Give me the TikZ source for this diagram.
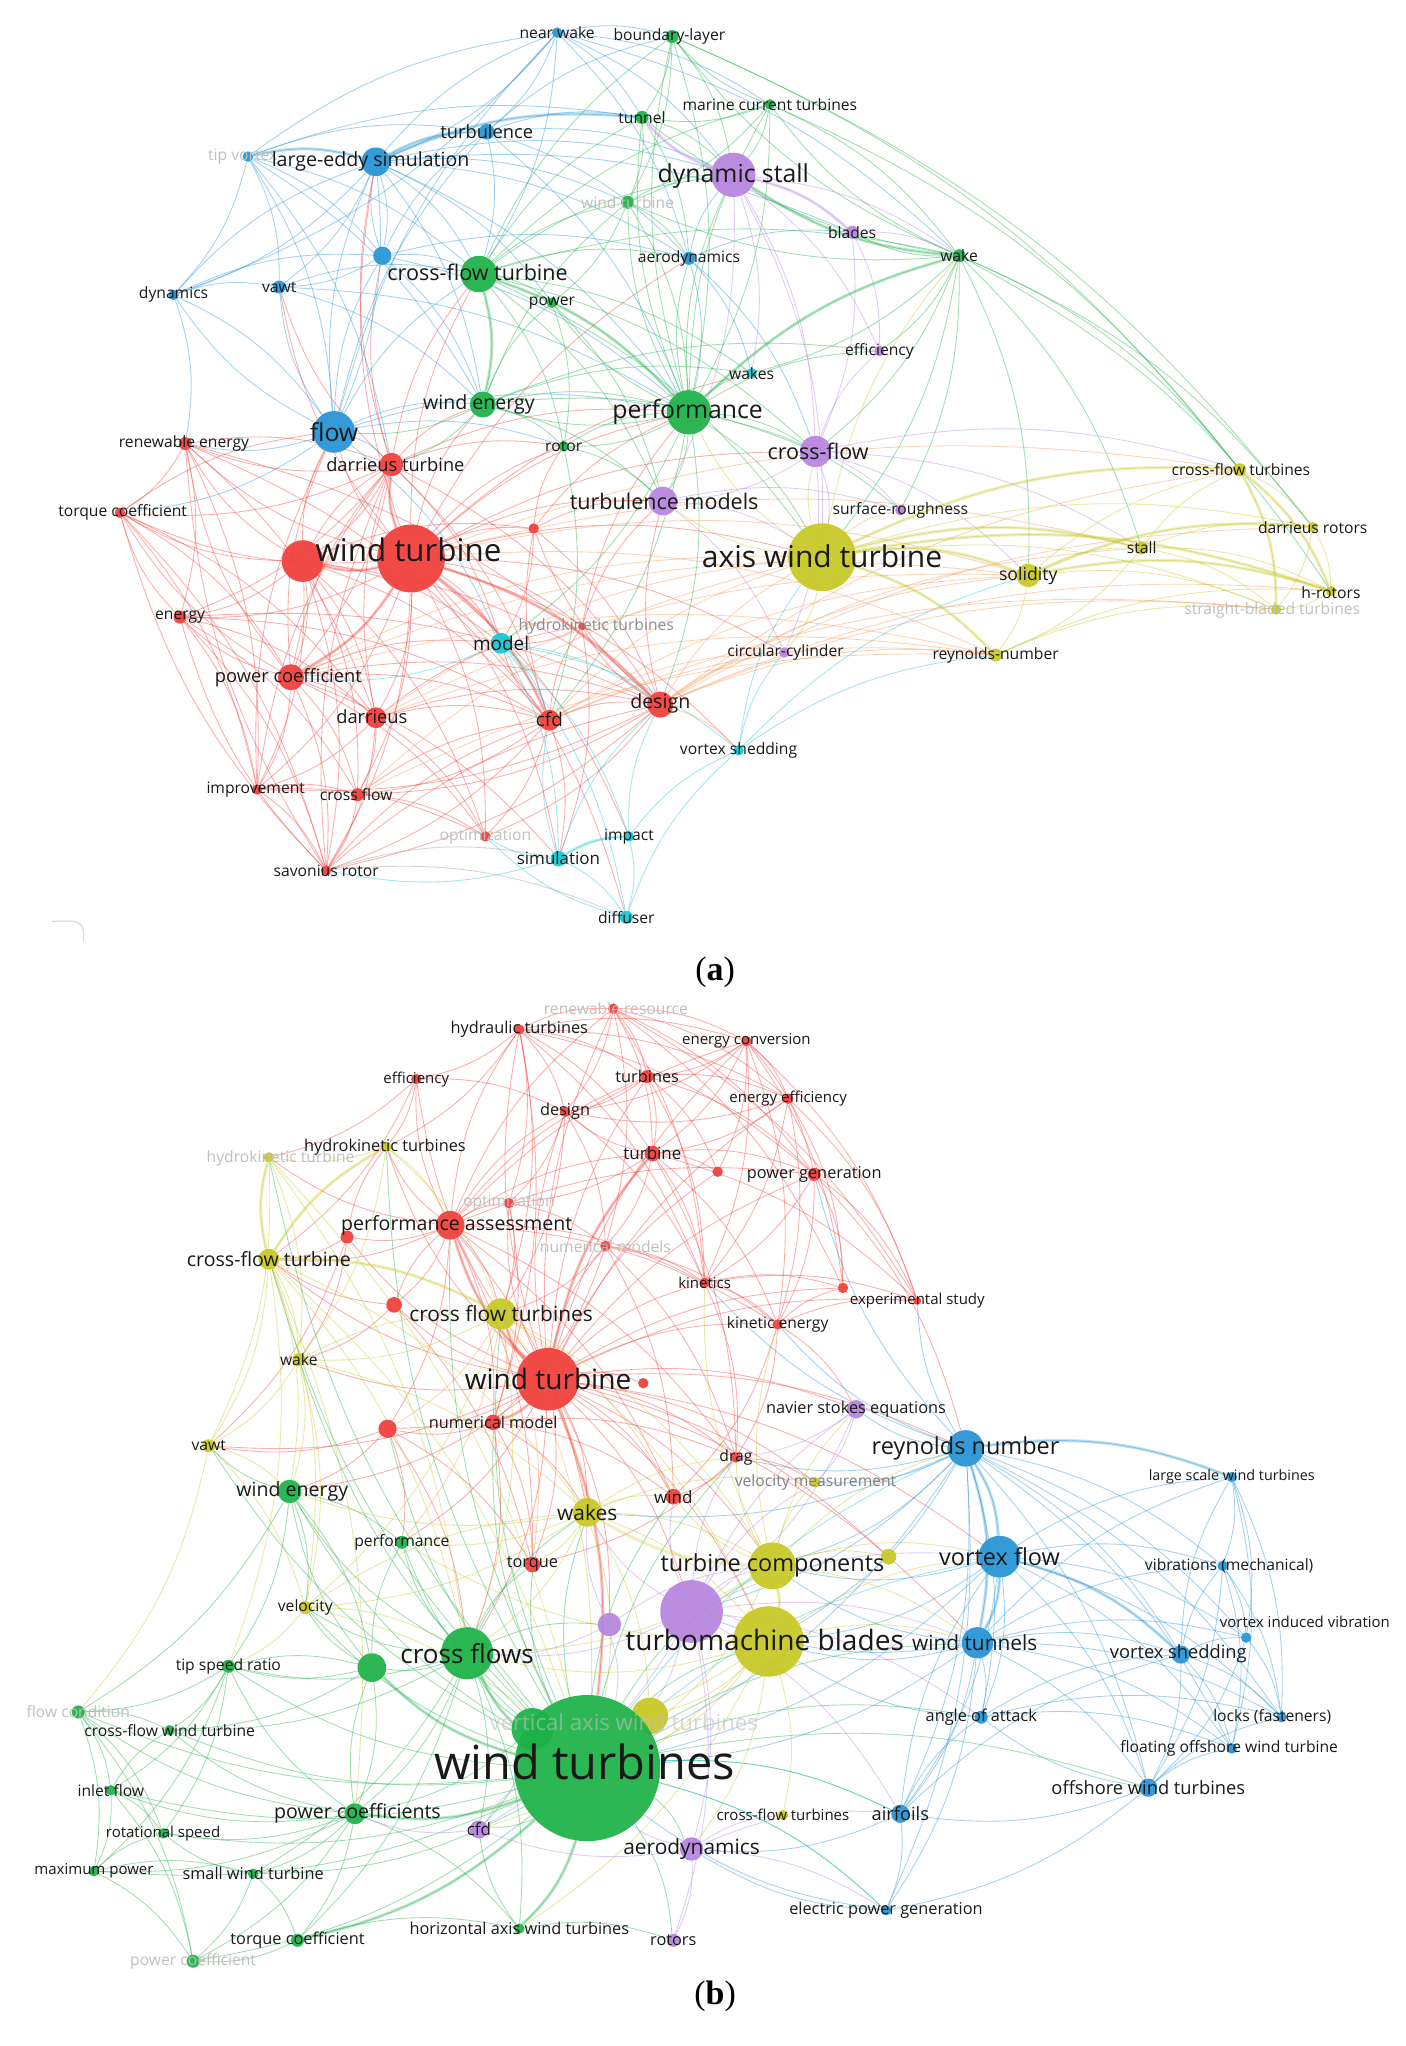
\documentclass[tikz,border=0pt]{standalone}
\usepackage{fontspec}
\setmainfont{Open Sans}
\newfontfamily\capfont{Liberation Serif}
\pgfdeclarelayer{background}
\pgfdeclarelayer{foreground}
\pgfsetlayers{background,main,foreground}
\definecolor{cR}{RGB}{242,62,58}
\definecolor{cG}{RGB}{28,178,72}
\definecolor{cB}{RGB}{38,148,214}
\definecolor{cP}{RGB}{182,132,222}
\definecolor{cY}{RGB}{200,200,36}
\definecolor{cC}{RGB}{22,200,214}
\definecolor{cO}{RGB}{250,150,80}
\tikzset{
 kdot/.style={circle, inner sep=0pt, draw=none, fill opacity=0.93},
 klab/.style={inner sep=0pt, text=black!90},
 edge/.style={line width=0.65pt, draw opacity=0.42, bend left=14},
 thickedge/.style={line width=2.4pt, draw opacity=0.28, bend left=14},
}
\newcommand\kw[9]{\node[kdot,fill=#4,minimum size=#5pt] (#1) at (#2,#3) {};
 \begin{pgfonlayer}{foreground}\node[klab,font=\fontsize{#8}{#8}\selectfont] (#1l) at (#6,#7) {#9};\end{pgfonlayer}}
\newcommand\kd[5]{\node[kdot,fill=#4,minimum size=#5pt] (#1) at (#2,#3) {};}
\newcommand\hub[3]{\foreach \tg in {#3}{\draw[edge,#2] (#1) to (\tg);}}
\newcommand\hubt[3]{\foreach \tg in {#3}{\draw[thickedge,#2] (#1) to (\tg);}}
\newcommand\faint[1]{{\color{black!25}#1}}
\begin{document}
\begin{tikzpicture}[x=1pt,y=-1pt]
\useasboundingbox (0,0) rectangle (1077,1568);
\begin{pgfonlayer}{background}
\fill[white] (0,0) rectangle (1077,1568);
\end{pgfonlayer}
% ================= panel (a) =================
\kw{anw}{427}{25}{cB}{8}{427}{25}{12}{near wake}
\kw{abl}{515}{28}{cG}{10}{513}{28}{12}{boundary-layer}
\kw{amct}{590}{80}{cG}{8}{590}{80}{12}{marine current turbines}
\kw{atun}{492}{90}{cG}{10}{492}{90}{12}{tunnel}
\kw{aturb}{373}{101}{cB}{12}{373}{101}{14}{turbulence}
\kw{atv}{190}{120}{cB}{8}{186}{120}{12}{\faint{tip vortex}}
\kw{ales}{288}{124}{cB}{22}{284}{124}{15}{large-eddy simulation}
\kw{ads}{562}{134}{cP}{34}{562}{135}{19}{dynamic stall}
\kw{awtg}{481}{155}{cG}{10}{481}{155}{12}{\faint{wind turbine}}
\kw{abld}{653}{178}{cP}{10}{653}{178}{12}{blades}
\kw{awake}{735}{196}{cG}{10}{735}{196}{12}{wake}
\kw{aaero}{528}{198}{cB}{10}{528}{198}{12}{aerodynamics}
\kw{adyn}{133}{226}{cB}{8}{133}{226}{12}{dynamics}
\kw{avawt}{214}{220}{cB}{10}{214}{220}{12}{vawt}
\kd{abu}{293}{196}{cB}{14}
\kw{acft}{367}{210}{cG}{28}{366}{209}{16.5}{cross-flow turbine}
\kw{apow}{423}{232}{cG}{8}{423}{232}{12}{power}
\kw{aeff}{674}{269}{cP}{8}{674}{269}{12}{efficiency}
\kw{awks}{576}{286}{cC}{8}{576}{286}{12}{wakes}
\kw{awe}{370}{310}{cG}{20}{367}{310}{15}{wind energy}
\kw{aperf}{528}{316}{cG}{34}{527}{316}{19}{performance}
\kw{aflow}{256}{331}{cB}{32}{256}{331}{19}{flow}
\kw{aren}{142}{340}{cR}{10}{141}{340}{12}{renewable energy}
\kw{arot}{432}{342}{cG}{8}{432}{342}{12}{rotor}
\kw{acf}{625}{346}{cP}{24}{627}{346}{16.5}{cross-flow}
\kw{adt}{300}{356}{cR}{18}{303}{356}{14}{darrieus turbine}
\kw{atm}{508}{384}{cP}{22}{509}{384}{16.5}{turbulence models}
\kw{asr}{690}{391}{cP}{8}{690}{391}{12}{surface-roughness}
\kw{atqc}{92}{393}{cR}{8}{94}{393}{12}{torque coefficient}
\kd{ars}{409}{405}{cR}{8}
\kd{awt2}{232}{430}{cR}{32}
\kw{awt}{315}{428}{cR}{52}{313}{421}{24}{wind turbine}
\kw{aawt}{630}{427}{cY}{52}{630}{426}{23}{axis wind turbine}
\kw{asol}{788}{441}{cY}{18}{788}{441}{13.5}{solidity}
\kw{acfts}{950}{360}{cY}{10}{951}{360}{12}{cross-flow turbines}
\kw{adro}{1006}{404}{cY}{8}{1006}{404}{12}{darrieus rotors}
\kw{ast}{875}{420}{cY}{10}{875}{420}{12}{stall}
\kw{ahr}{1020}{453}{cY}{8}{1020}{454}{12}{h-rotors}
\kw{asbt}{978}{467}{cY}{8}{975}{468}{12}{\faint{straight-bladed turbines}}
\kw{aen}{138}{473}{cR}{10}{138}{473}{12}{energy}
\kw{ahkt}{446}{480}{cR}{6}{457}{480}{12}{{\color{black!45}hydrokinetic turbines}}
\kw{amod}{384}{493}{cC}{16}{384}{493}{14.5}{model}
\kw{acc}{601}{500}{cP}{8}{602}{500}{12}{circular-cylinder}
\kw{areyn}{763}{502}{cY}{10}{763}{502}{12}{reynolds-number}
\kw{apc}{223}{519}{cR}{20}{221}{519}{14}{power coefficient}
\kw{adar}{288}{550}{cR}{16}{285}{549}{14}{darrieus}
\kw{acfd}{421}{552}{cR}{16}{421}{551}{14.5}{cfd}
\kw{ades}{506}{540}{cR}{20}{506}{539}{15}{design}
\kw{avsh}{566}{575}{cC}{8}{566}{575}{12}{vortex shedding}
\kw{aimp}{197}{605}{cR}{8}{196}{605}{12}{improvement}
\kw{acfl}{274}{609}{cR}{10}{273}{609}{12}{cross flow}
\kw{aopt}{372}{641}{cR}{8}{372}{641}{12}{\faint{optimization}}
\kw{aimpact}{482}{641}{cC}{8}{482}{641}{12}{impact}
\kw{asim}{428}{658}{cC}{12}{428}{658}{13}{simulation}
\kw{asav}{250}{667}{cR}{8}{250}{667}{12}{savonius rotor}
\kw{adif}{480}{703}{cC}{10}{480}{703}{12}{diffuser}
\draw[black!15,line width=1pt,rounded corners=8pt] (40,706) -- (64,706) -- (64,721);
\node[font=\capfont\fontsize{26}{26}\selectfont] (capa) at (548,745) {(\textbf{a})};
% ================= panel (b) =================
\kw{brr}{470}{773}{cR}{8}{472}{773}{12}{\faint{renewable resource}}
\kw{bhyd}{398}{789}{cR}{8}{398}{789}{12.5}{hydraulic turbines}
\kw{bec}{572}{798}{cR}{8}{572}{798}{11.5}{energy conversion}
\kw{beff}{319}{827}{cR}{8}{319}{827}{11.5}{efficiency}
\kw{btur}{496}{825}{cR}{10}{496}{825}{12.5}{turbines}
\kw{bee}{604}{842}{cR}{8}{604}{842}{11.5}{energy efficiency}
\kw{bdes}{433}{852}{cR}{8}{433}{852}{12.5}{design}
\kw{bhkt}{296}{879}{cY}{8}{295}{879}{12.5}{hydrokinetic turbines}
\kw{bhktf}{206}{887}{cY}{8}{215}{888}{12}{\faint{hydrokinetic turbine}}
\kw{bturb}{500}{884}{cR}{12}{500}{884}{13}{turbine}
\kw{bpg}{624}{900}{cR}{10}{624}{900}{12.5}{power generation}
\kd{br550}{550}{898}{cR}{8}
\kw{bopt}{390}{922}{cR}{8}{390}{922}{12}{\faint{optimization}}
\kw{bpa}{345}{939}{cR}{22}{350}{939}{15}{performance assessment}
\kd{br266}{266}{948}{cR}{10}
\kw{bnms}{464}{955}{cR}{8}{464}{955}{12}{\faint{numerical models}}
\kw{bcft}{206}{965}{cY}{16}{206}{965}{15}{cross-flow turbine}
\kw{bkin}{540}{983}{cR}{8}{540}{983}{11.5}{kinetics}
\kw{bexp}{703}{997}{cR}{6}{703}{997}{11.5}{experimental study}
\kd{br646}{646}{987}{cR}{8}
\kw{bke}{596}{1015}{cR}{8}{596}{1015}{12}{kinetic energy}
\kd{br302}{302}{1000}{cR}{12}
\kw{bcfts}{384}{1007}{cY}{24}{384}{1007}{16}{cross flow turbines}
\kw{bwake}{229}{1042}{cY}{10}{229}{1042}{12}{wake}
\kw{bwt}{420}{1057}{cR}{48}{420}{1057}{21.5}{wind turbine}
\kd{br493}{493}{1060}{cR}{8}
\kw{bnm}{378}{1090}{cR}{12}{378}{1090}{12.5}{numerical model}
\kd{br297}{297}{1095}{cR}{14}
\kw{bnse}{656}{1080}{cP}{14}{656}{1080}{12.5}{navier stokes equations}
\kw{breyn}{740}{1110}{cB}{28}{740}{1110}{18}{reynolds number}
\kw{bdrag}{564}{1117}{cR}{8}{564}{1117}{12}{drag}
\kw{bvm}{625}{1136}{cY}{8}{625}{1136}{12}{{\color{black!50}velocity measurement}}
\kw{blsw}{944}{1132}{cB}{8}{944}{1132}{11}{large scale wind turbines}
\kw{bvawt}{160}{1108}{cY}{10}{160}{1108}{12}{vawt}
\kw{bwe}{222}{1143}{cG}{18}{224}{1143}{15}{wind energy}
\kw{bwind}{516}{1147}{cR}{12}{516}{1147}{13}{wind}
\kw{bwks}{450}{1159}{cY}{22}{450}{1159}{16}{wakes}
\kw{bperf}{308}{1182}{cG}{10}{308}{1182}{12}{performance}
\kw{bvf}{766}{1193}{cB}{32}{766}{1193}{18}{vortex flow}
\kd{by681}{681}{1193}{cY}{12}
\kw{btc}{592}{1200}{cY}{36}{592}{1200}{18}{turbine components}
\kw{bvib}{937}{1200}{cB}{8}{942}{1200}{12}{vibrations (mechanical)}
\kw{btq}{408}{1199}{cR}{12}{408}{1199}{12.5}{torque}
\kw{bvel}{234}{1232}{cY}{10}{234}{1232}{12}{velocity}
\kd{bp1}{530}{1235}{cP}{48}
\kd{bp2}{467}{1245}{cP}{18}
\kw{bviv}{955}{1255}{cB}{8}{1000}{1243}{11.5}{vortex induced vibration}
\kw{btb}{589}{1258}{cY}{54}{586}{1257}{21.5}{turbomachine blades}
\kw{bwtun}{749}{1259}{cB}{24}{747}{1259}{16}{wind tunnels}
\kw{bvsh}{905}{1268}{cB}{14}{903}{1267}{14}{vortex shedding}
\kd{bg285}{285}{1278}{cG}{22}
\kw{bcfl}{358}{1267}{cG}{40}{358}{1267}{20}{cross flows}
\kw{btsr}{175}{1277}{cG}{10}{175}{1277}{12}{tip speed ratio}
\kw{bfc}{60}{1312}{cG}{10}{60}{1312}{12}{\faint{flow condition}}
\kw{blocks}{982}{1316}{cB}{8}{975}{1316}{12}{locks (fasteners)}
\kw{baoa}{752}{1316}{cB}{10}{752}{1316}{12.5}{angle of attack}
\kd{bvawtn}{498}{1315}{cY}{28}
\kd{bg408}{408}{1325}{cG}{32}
\kw{bcfwt}{130}{1326}{cG}{8}{130}{1326}{12}{cross-flow wind turbine}
\kw{bwts}{450}{1355}{cG}{112}{448}{1350}{36}{wind turbines}
\begin{pgfonlayer}{foreground}
\node[klab,font=\fontsize{17}{17}\selectfont,text=black!25,text opacity=0.6] (bvawtnl) at (478,1320) {vertical axis wind turbines};
\end{pgfonlayer}
\kw{bfowt}{944}{1340}{cB}{8}{942}{1340}{12}{floating offshore wind turbine}
\kw{bofw}{880}{1370}{cB}{14}{880}{1370}{14}{offshore wind turbines}
\kw{binl}{85}{1372}{cG}{8}{85}{1372}{12}{inlet flow}
\kw{bpcs}{272}{1390}{cG}{16}{274}{1390}{15}{power coefficients}
\kw{bcfd}{367}{1402}{cP}{14}{367}{1402}{13}{cfd}
\kw{bcfturb}{600}{1391}{cY}{8}{600}{1391}{11.5}{cross-flow turbines}
\kw{bairf}{690}{1390}{cB}{14}{690}{1390}{14}{airfoils}
\kw{brs}{125}{1405}{cG}{8}{125}{1405}{11.5}{rotational speed}
\kw{baer}{530}{1417}{cP}{18}{530}{1417}{16}{aerodynamics}
\kw{bmp}{72}{1434}{cG}{8}{72}{1434}{11.5}{maximum power}
\kw{bswt}{194}{1436}{cG}{8}{194}{1436}{12.5}{small wind turbine}
\kw{bepg}{679}{1464}{cB}{8}{679}{1464}{12.5}{electric power generation}
\kw{bhawt}{398}{1478}{cG}{8}{398}{1478}{12.5}{horizontal axis wind turbines}
\kw{brot}{516}{1487}{cP}{10}{516}{1487}{12.5}{rotors}
\kw{btqc}{228}{1487}{cG}{10}{228}{1487}{12.5}{torque coefficient}
\kw{bpcf}{148}{1503}{cG}{10}{148}{1503}{12}{\faint{power coefficient}}
\node[font=\capfont\fontsize{26}{26}\selectfont] (capb) at (548,1530) {(\textbf{b})};
% ================= edges =================
\begin{pgfonlayer}{background}
% ---- (a) red
\hub{awt}{cR}{awt2,adt,apc,adar,acfd,ades,aen,aimp,acfl,asav,aopt,aren,atqc,ahkt,ars,aflow,amod,asim,aperf,awe,acft,atm,aawt,acf,arot,ales,avawt,aimpact,adif,avsh,acc,awks,aaero}
\hubt{awt}{cR}{awt2,apc,adt,acfd,ades}
\hub{awt2}{cR}{aren,atqc,aen,apc,adar,aimp,acfl,asav,adt,acfd,ades,aflow,amod,ars,aopt}
\hub{apc}{cR}{aen,aimp,acfl,asav,adar,atqc,aren,acfd,ades,aopt,asim,amod,adt,aflow}
\hub{adar}{cR}{aimp,acfl,asav,acfd,aopt,ades,adt,ahkt}
\hub{acfd}{cR}{ades,aopt,asav,acfl,amod,asim,ahkt,ars}
\hub{ades}{cR}{aopt,asav,aimp,ahkt,ars,atm,acfl}
\hub{aren}{cR}{atqc,aen,adt,aimp,adar,acfd,ades}
\hub{adt}{cR}{awe,acft,aperf,amod,acfd,ades,aren,arot,ales,avawt,abu,atqc,aen,apc,awt2}
\hub{aen}{cR}{atqc,aimp,asav,acfl,adar,acfd,ades}
\hub{ars}{cR}{amod,ades,atm,arot,aperf}
\hub{aimp}{cR}{asav,acfl,aopt,adt,aflow}
\hub{acfl}{cR}{asav,aopt,acfd}
\hub{asav}{cR}{adt,aren,atqc,aen,acfd,ades}
\hub{atqc}{cR}{aimp,adar,asav,aflow,apc}
\hub{ahkt}{cR}{amod,atm,aperf,asim}
\hub{ades}{cO}{ahr,asbt,adro,ast,acfts,asol,areyn,aawt,acc,avsh}
\hub{acfd}{cO}{asbt,areyn,aawt,asol,acc}
\hub{awt}{cO}{asol,ast,areyn,acfts}
\hub{adar}{cO}{areyn,aawt,asol}
\hub{apc}{cO}{aawt,asol,areyn}
\hub{acfl}{cO}{aawt,areyn}
% ---- (a) blue
\hub{atv}{cB}{ales,abu,avawt,adyn,aflow,aturb,anw,acft,awe,adt,atun}
\hubt{atv}{cB}{ales}
\hub{ales}{cB}{aturb,anw,abu,avawt,aflow,acft,atun,ads,abld,adyn,aaero,aperf,awe,apow,awtg}
\hubt{ales}{cB}{aturb,atun}
\hub{aflow}{cB}{avawt,abu,adyn,acft,awe,adt,aturb,anw,amod,atqc,aren,ales,aperf,arot}
\hub{anw}{cB}{aturb,atun,abl,acft,aaero,ads,adyn,awake,ales,amct}
\hub{adyn}{cB}{avawt,aflow,aren,abu,ales}
\hub{abu}{cB}{acft,aturb,avawt,aaero,aperf,awe,ales}
\hub{aturb}{cB}{atun,acft,ads,aaero,abl,aperf}
\hub{aaero}{cB}{ads,aperf,awks,abld,acf}
\hub{avawt}{cB}{acft,awe,aperf}
% ---- (a) green
\hub{acft}{cG}{awe,apow,aperf,awtg,atun,abl,amct,ads,aaero,arot,awake,acf,atm,aawt,awks}
\hubt{acft}{cG}{aperf,awe}
\hub{aperf}{cG}{awe,apow,arot,awtg,atun,abl,amct,ads,aaero,awake,acf,atm,aawt,aeff,awks,asr,ades,acfd,amod}
\hubt{aperf}{cG}{awake}
\hub{awake}{cG}{ads,abld,amct,abl,atun,awtg,acf,aawt,aeff,asol,ast,acfts,adro,ahr,asr,awks}
\hubt{awake}{cG}{ads}
\hub{amct}{cG}{abl,atun,ads,awtg,awake,acfts,aperf}
\hub{abl}{cG}{atun,awtg,ads,acfts,adro,aperf}
\hub{awe}{cG}{apow,arot,awtg,adt,aflow,atm,aperf,acf,awks,aeff}
\hub{atun}{cG}{awtg,ads,aaero}
\hub{awtg}{cG}{ads,aaero,apow,aperf}
\hub{apow}{cG}{arot,atm}
\hub{arot}{cG}{atm,acfd,aperf}
% ---- (a) purple
\hub{ads}{cP}{abld,acf,aeff,atm,aawt,awks,atun,awake}
\hubt{ads}{cP}{atun,abld}
\hub{acf}{cP}{aeff,asr,aawt,atm,acc,asol,acfts,ast}
\hub{atm}{cP}{aawt,acc,asr}
\hub{abld}{cP}{aeff,acf,awake}
% ---- (a) yellow
\hub{aawt}{cY}{asol,ast,acfts,adro,ahr,asbt,areyn,asr,acc,aperf,acf,atm,awake}
\hubt{aawt}{cY}{asol,acfts,ahr,areyn,ast}
\hub{asol}{cY}{ast,acfts,adro,ahr,asbt,areyn}
\hubt{asol}{cY}{ahr,adro}
\hub{ast}{cY}{acfts,adro,ahr,asbt,areyn}
\hub{acfts}{cY}{adro,ahr,asbt}
\hubt{acfts}{cY}{ahr,asbt}
\hub{adro}{cY}{ahr,asbt}
\hub{ahr}{cY}{asbt}
\hub{areyn}{cY}{asbt,ahr}
% ---- (a) cyan
\hub{amod}{cC}{asim,aimpact,adif,avsh,acfd,ades,apc}
\hub{asim}{cC}{aimpact,adif,aopt,acfd,ades,asav}
\hubt{asim}{cC}{aimpact}
\hub{aimpact}{cC}{adif,avsh,ades}
\hub{adif}{cC}{avsh,aopt}
\hub{avsh}{cC}{aawt,acc,areyn,asol}
\hub{asav}{black!40}{asim,adif}
% ---- (b) red
\hub{bwt}{cR}{bpa,bhyd,brr,bec,beff,btur,bee,bdes,bturb,bpg,bopt,bnms,bkin,bke,br302,bnm,br297,bdrag,bwind,btq,bcft,bcfts,bwks,btc,btb,bwts,bcfl,bwe,bperf,bvawt,bwake,bhkt,bvm,bnse,breyn,br493,bexp,br646,br266,br550,bp1,bp2,bvf,bwtun,by681}
\hubt{bwt}{cR}{bpa,bcfts,bnm,bturb,bwts}
\hub{bpa}{cR}{bhyd,brr,beff,btur,bdes,bturb,bopt,bhkt,bhktf,bcft,br266,bcfts,bnm,br297,bkin,bke,bpg,bec,br302,bwks,bwind,btq,bdrag}
\hub{bhyd}{cR}{brr,beff,btur,bdes,bturb,bec,bee,bpg,bopt,bkin,bcfts,bnm,bhkt}
\hub{brr}{cR}{bec,btur,bee,bturb,bdes,bpg,bkin,bexp,br646,bnms}
\hub{bec}{cR}{btur,bee,bturb,bpg,br550,bexp,bkin,bke,br646,bdes}
\hub{bee}{cR}{bexp,bke,br646,bkin,bdes,bturb}
\hub{btur}{cR}{bee,bdes,bturb,bpg,br550,bkin}
\hub{bdes}{cR}{bnms,bopt,bkin,bcfts}
\hub{bturb}{cR}{bpg,br550,bkin,bke,bdrag,bdes,bopt,bnms,bexp}
\hub{bpg}{cR}{bke,br646,bexp,bkin,breyn}
\hub{bkin}{cR}{bke,bdrag,bexp,br646}
\hub{bke}{cR}{bexp,br646,bdrag,bnse,bwind}
\hub{bnms}{cR}{bkin,bke,bdrag,bwind,bcfts,bnm}
\hub{bopt}{cR}{bcfts,bnms,bnm}
\hub{bnm}{cR}{br297,btq,bdrag,bwind,bwks,bcfl}
\hub{br297}{cR}{btq,bwe,bperf,bvawt,bcfl}
\hub{beff}{cR}{bhktf,bhkt,bdes,bcft}
\hub{bdrag}{cR}{bwind,btq,bvm}
\hub{br302}{cR}{bcft,bwake,bpa,btq}
\hub{br266}{cR}{bcft,bhkt,bwake,bvawt}
\hub{bcfts}{cO}{bnm,btq,bwind,br297,bperf}
% ---- (b) yellow
\hub{bcft}{cY}{bhkt,bhktf,bwake,bvawt,bwe,bvel,bcfts,btsr,bpcs,bwks,bcfl,bwts}
\hubt{bcft}{cY}{bhkt,bhktf,bcfts}
\hub{bhkt}{cY}{bhktf,bwake,bcfts,bpa}
\hub{bhktf}{cY}{bwake,bvawt,bcfl,bwts}
\hub{bwake}{cY}{bvawt,bwe,bvel,bcfts,bwks}
\hub{bvawt}{cY}{bwe,bvel,bfc}
\hub{bcfts}{cY}{bwake,bvel,bwks,btb,btc,bwts,bcfl}
\hub{bvel}{cY}{bcfl,btsr,bwks,bwts}
\hub{bwks}{cY}{btc,btb,bvel,bvm,bvawtn,bwts,bcfl,bperf,bwe,btq,bwind,bdrag}
\hub{btc}{cY}{btb,bvm,by681,bwtun,bvf,bnse,breyn,bwts,bcfl,bwind,bdrag,bkin,bke}
\hubt{btc}{cY}{btb,bwks}
\hub{btb}{cY}{bvawtn,bcfturb,bwts,baer,bwtun,bvf,bcfl,bg408,bcfd,bhawt,bperf}
% ---- (b) green
\hub{bwts}{cG}{bcfl,bg285,bg408,bwe,bperf,btsr,bfc,bcfwt,binl,bpcs,brs,bmp,bswt,btqc,bpcf,bhawt,bcfd,baer,brot,bvel,btq,bwks,btb,btc,bwtun,baoa,bairf,bepg,bofw,bwind,bdrag,bnm,br297,bcft,bvawt,bwake,bpa,bcfts,bhkt,bhktf}
\hubt{bwts}{cG}{bcfl,bpcs,btqc,bhawt,bg285}
\hub{bcfl}{cG}{bg285,bwe,bperf,btsr,bpcs,bvel,bcfwt,bswt,btqc,bhawt,bwks,btq,bp2,bcfd}
\hub{bg285}{cG}{btsr,bvel,bperf,bwe,bcfwt,bpcs}
\hub{bg408}{cG}{bcfl,bpcs,bcfd}
\hub{bpcs}{cG}{btsr,bfc,bcfwt,binl,brs,bmp,bswt,btqc,bpcf,bhawt,bg285}
\hub{bwe}{cG}{bperf,bvel,btsr,bg285,bfc,bvawt}
\hub{btsr}{cG}{bfc,bcfwt,binl,brs,bmp,bg285}
\hub{bfc}{cG}{bcfwt,binl,brs,bmp,bpcf}
\hub{binl}{cG}{brs,bmp,bpcf,bcfwt}
\hub{bmp}{cG}{bpcf,bswt,brs}
\hub{bswt}{cG}{btqc,bpcf,brs}
\hub{btqc}{cG}{bpcf,bhawt}
\hub{bhawt}{cG}{brot,bcfd}
% ---- (b) purple
\hub{bp1}{cP}{btb,btc,bwts,baer,bwtun,bvf,bnse,brot,bwks,bcfd,bcfl,bwind,bdrag,bvm,baoa,bairf}
\hub{bp2}{cP}{bwts,bcfl,bwks,btc}
\hub{baer}{cP}{brot,bcfd,bcfturb,bairf,bwts,bepg}
\hub{bcfd}{cP}{bwts,bpcs}
\hub{bnse}{cP}{bdrag,bvm,bp1}
% ---- (b) blue
\hub{breyn}{cB}{bvf,bwtun,blsw,bvib,bviv,bvsh,blocks,bfowt,bofw,baoa,btc,btb,bnse,bvm,bdrag,bwks,bp1,bwts,bairf,bepg,bexp,bke,bpg,bkin}
\hubt{breyn}{cB}{bvf,blsw,bwtun}
\hub{bvf}{cB}{bwtun,blsw,bvib,bviv,bvsh,blocks,bfowt,bofw,baoa,bairf,btb,btc,bwts}
\hubt{bvf}{cB}{bwtun,bvsh}
\hub{bwtun}{cB}{bvsh,baoa,bofw,bairf,bepg,bvib,blsw,bviv,blocks,bfowt,btb,btc,bwts,bp1}
\hub{bvsh}{cB}{blsw,bvib,bviv,blocks,bfowt,bofw}
\hub{blsw}{cB}{bvib,bviv,blocks,bfowt}
\hub{bvib}{cB}{bviv,blocks,bfowt,bofw}
\hub{bviv}{cB}{blocks,bofw}
\hub{bofw}{cB}{bfowt,blocks,bairf,baoa,bepg}
\hub{baoa}{cB}{bvsh,blocks,bfowt,btb}
\hub{bairf}{cB}{bepg,baoa,baer,bvf,bvsh}
\hub{bepg}{cB}{bwts,baer}
\hub{bwts}{cC}{bepg,bairf,bvf,breyn}
\end{pgfonlayer}
\end{tikzpicture}
\end{document}
